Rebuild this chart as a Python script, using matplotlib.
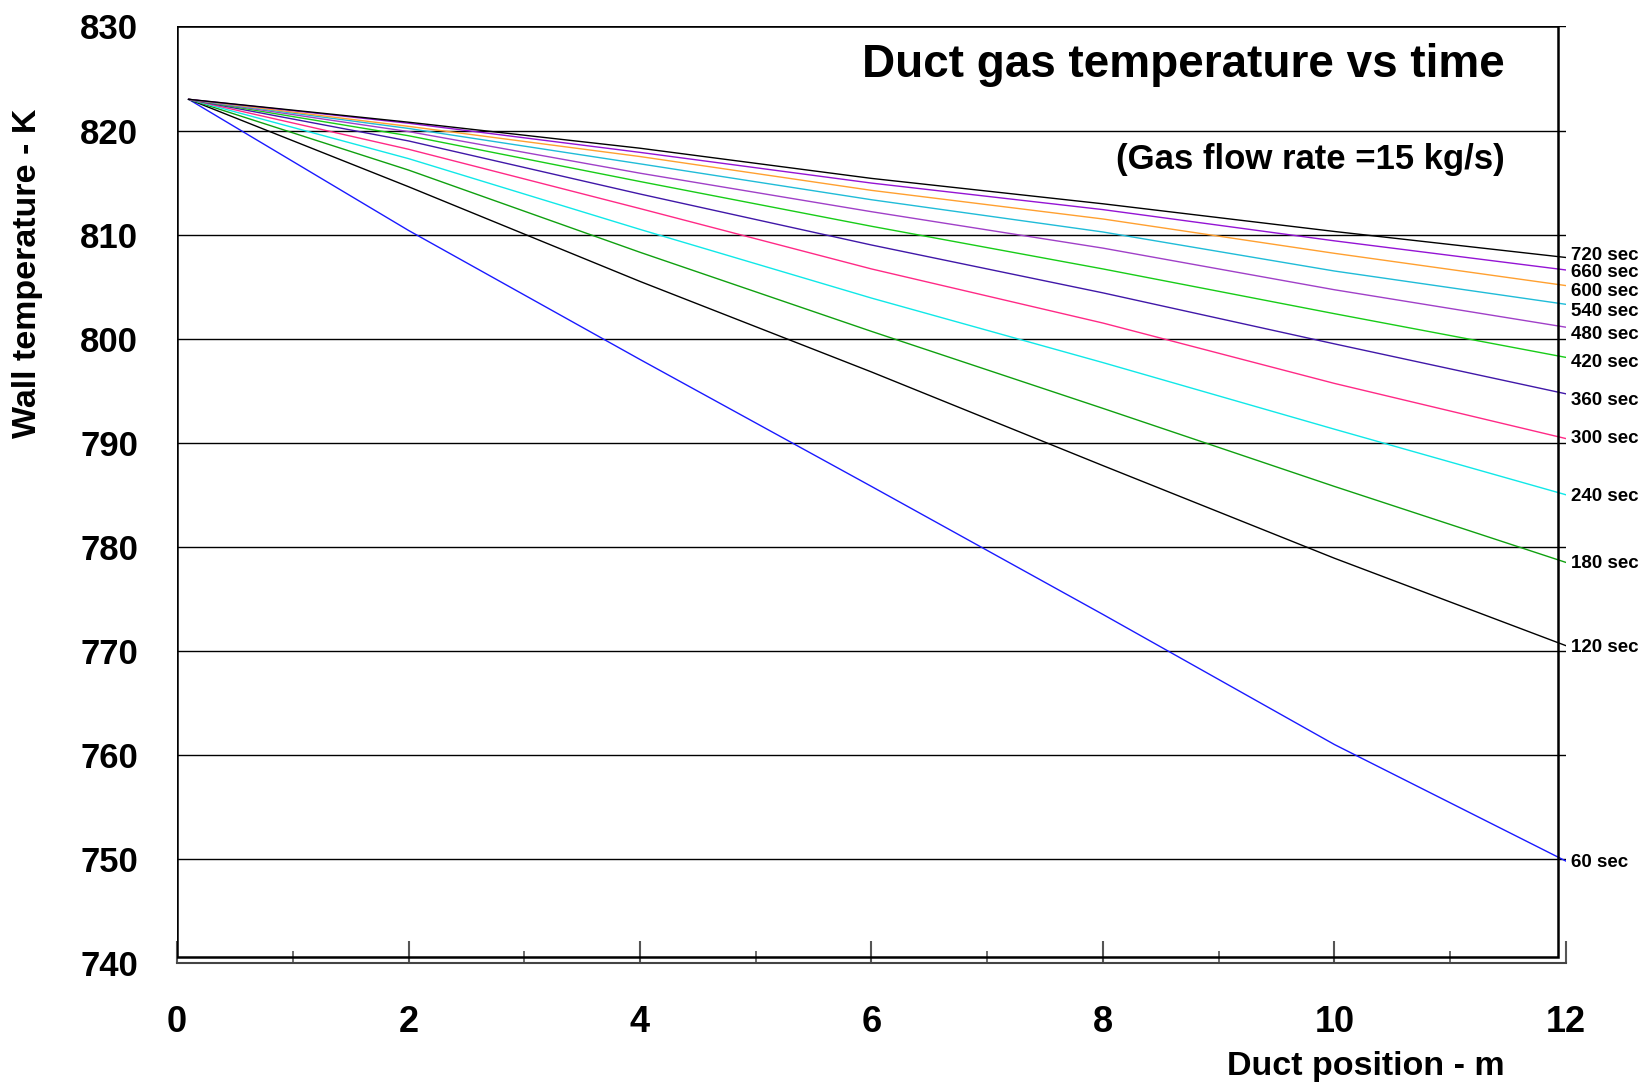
import matplotlib
matplotlib.use("Agg")
import matplotlib.pyplot as plt
from matplotlib.patches import Rectangle
from matplotlib.ticker import MultipleLocator

plt.rcParams['font.family'] = ['Liberation Sans', 'DejaVu Sans']
plt.rcParams['font.weight'] = 'bold'

# duct position (m) where the curves were read
position = [0.1, 2, 4, 6, 8, 10, 12]

# wall temperature (K) at each position, one list per time
t60 = [823, 810.4, 798.0, 785.8, 773.5, 761.0, 749.8]
t120 = [823, 814.6, 805.5, 796.8, 787.8, 778.9, 770.5]
t180 = [823, 816.2, 808.3, 800.7, 793.3, 785.8, 778.5]
t240 = [823, 817.3, 810.5, 803.9, 797.7, 791.3, 785.0]
t300 = [823, 818.2, 812.5, 806.7, 801.5, 795.7, 790.4]
t360 = [823, 819.0, 813.9, 809.0, 804.4, 799.5, 794.7]
t420 = [823, 819.5, 815.1, 810.8, 806.7, 802.4, 798.2]
t480 = [823, 819.9, 815.9, 812.2, 808.7, 804.7, 801.1]
t540 = [823, 820.2, 816.8, 813.35, 810.25, 806.5, 803.3]
t600 = [823, 820.4, 817.5, 814.25, 811.5, 808.2, 805.1]
t660 = [823, 820.7, 817.9, 814.95, 812.4, 809.4, 806.6]
t720 = [823, 820.8, 818.3, 815.4, 812.96, 810.3, 807.8]

series = [t60, t120, t180, t240, t300, t360, t420, t480, t540, t600, t660, t720]
labels = ["60 sec", "120 sec", "180 sec", "240 sec", "300 sec", "360 sec",
          "420 sec", "480 sec", "540 sec", "600 sec", "660 sec", "720 sec"]
colors = ["#1a1aff", "#000000", "#10a010", "#10e8e8", "#ff2a86", "#4018a8",
          "#18cc18", "#a040c8", "#20bcd8", "#ffa030", "#9414d4", "#000000"]
# small vertical nudges (points) so the end labels don't collide
label_nudge = [-1, -1.5, -1, -1, 0, -4.5, -4, -5, -5, -4.5, -2, 1.5]

fig = plt.figure(figsize=(16.47, 10.89), dpi=100)
ax = fig.add_axes([0.1075, 0.1157, 0.8432, 0.8600])

for temps, lab, col, dy in zip(series, labels, colors, label_nudge):
    ax.plot(position, temps, color=col, lw=1.0)
    ax.annotate(lab, xy=(position[-1], temps[-1]), xytext=(4, dy),
                textcoords="offset points", va="center", ha="left",
                fontsize=13.5, fontweight="bold", annotation_clip=False)

ax.set_xlim(0, 12)
ax.set_ylim(740, 830)
ax.xaxis.set_major_locator(MultipleLocator(2))
ax.xaxis.set_minor_locator(MultipleLocator(1))
ax.yaxis.set_major_locator(MultipleLocator(10))

# horizontal gridlines run across to x=12
for v in range(750, 831, 10):
    ax.axhline(v, color="black", lw=1.0, zorder=0)

for side in ["top", "right", "left"]:
    ax.spines[side].set_visible(False)
ax.spines["bottom"].set_color("#444444")
ax.spines["bottom"].set_linewidth(1.5)

# Excel-style plot area box (stops just short of the 12 m mark)
ax.add_patch(Rectangle((0, 0.006), 11.93 / 12, 0.994, transform=ax.transAxes,
                       fill=False, ec="black", lw=1.8, zorder=3))

ax.tick_params(axis="x", which="major", direction="in", length=16, width=1.5,
               color="#555555", labelsize=26, pad=30)
ax.tick_params(axis="x", which="minor", direction="in", length=9, width=1.2,
               color="#555555")
ax.tick_params(axis="y", length=0, labelsize=25, pad=28)
for t in ax.get_xticklabels() + ax.get_yticklabels():
    t.set_fontweight("bold")

fig.text(0.017, 1 - 273 / 1089, "Wall temperature - K", rotation=90,
         fontsize=24.5, fontweight="bold", ha="center", va="center")
fig.text(1366 / 1647, 1 - 1066 / 1089, "Duct position - m", fontsize=24.5,
         fontweight="bold", ha="center", va="center")
fig.text(1505 / 1647, 1 - 65 / 1089, "Duct gas temperature vs time",
         fontsize=33, fontweight="bold", ha="right", va="center")
fig.text(1505 / 1647, 1 - 160 / 1089, "(Gas flow rate =15 kg/s)",
         fontsize=25, fontweight="bold", ha="right", va="center")

fig.savefig("out.png", dpi=100, facecolor="white")
